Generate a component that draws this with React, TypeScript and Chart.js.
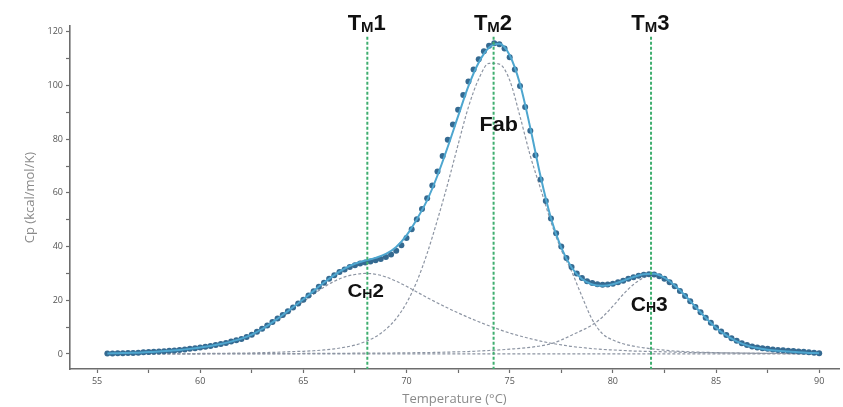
import React, { useEffect, useRef } from 'react';
import { Chart, registerables } from 'chart.js';

Chart.register(...registerables);

// ---- measured DSC data (every 0.25 °C starting at 55.5 °C) ----
const MEASURED_START = 55.5;
const MEASURED_STEP = 0.25;
const measuredCp = [
  0.2, 0.2,
  0.3, 0.3, 0.4, 0.4,
  0.5, 0.6, 0.7, 0.8,
  0.9, 1.0, 1.2, 1.3,
  1.5, 1.7, 1.9, 2.1,
  2.4, 2.7, 3.0, 3.3,
  3.7, 4.1, 4.6, 5.1,
  5.6, 6.3, 7.2, 8.3,
  9.4, 10.6, 11.9, 13.2,
  14.5, 15.9, 17.3, 18.8,
  20.2, 21.8, 23.4, 25.0,
  26.5, 28.0, 29.3, 30.5,
  31.5, 32.4, 33.1, 33.7,
  34.1, 34.5, 34.9, 35.4,
  36.1, 37.1, 38.5, 40.5,
  43.2, 46.5, 50.2, 54.0,
  58.0, 62.8, 68.0, 73.8,
  79.8, 85.5, 91.0, 96.5,
  101.5, 106.0, 109.8, 112.8,
  114.8, 115.8, 115.4, 113.8,
  110.6, 106.0, 99.8, 92.0,
  83.2, 74.0, 65.0, 57.0,
  50.5, 45.0, 40.0, 35.8,
  32.4, 30.0, 28.3, 27.1,
  26.4, 26.0, 25.8, 25.9,
  26.2, 26.7, 27.3, 28.0,
  28.6, 29.1, 29.5, 29.7,
  29.6, 29.0, 28.0, 26.7,
  25.2, 23.5, 21.6, 19.6,
  17.5, 15.5, 13.5, 11.6,
  9.9, 8.4, 7.1, 5.9,
  4.9, 4.0, 3.3, 2.8,
  2.4, 2.1, 1.9, 1.7,
  1.5, 1.4, 1.2, 1.1,
  0.9, 0.8, 0.6, 0.5,
  0.3,
];

// ---- fitted curves (every 0.5 °C starting at 55.5 °C) ----
const CURVE_START = 55.5;
const CURVE_STEP = 0.5;
const fitCp = [
  0.2,
  0.3, 0.4, 0.5, 0.7, 0.9, 1.2, 1.5, 1.9, 2.4, 3.0,
  3.7, 4.6, 5.7, 7.2, 9.3, 11.8, 14.5, 17.4, 20.4, 23.5,
  26.6, 29.4, 31.8, 33.6, 34.8, 35.8, 37.3, 39.9, 44.2, 50.2,
  57.3, 66.5, 77.2, 88.6, 99.8, 108.6, 114.2, 115.6, 111.3, 100.6,
  84.2, 66.0, 50.6, 39.6, 32.2, 27.9, 25.9, 25.4, 26.0, 27.3,
  28.7, 29.7, 29.9, 28.4, 25.5, 21.8, 17.6, 13.5, 9.8, 6.9,
  4.7, 3.2, 2.2, 1.6, 1.2, 0.9, 0.6, 0.4, 0.3,
];
const ch2Cp = [
  0.1,
  0.2, 0.3, 0.4, 0.6, 0.8, 1.1, 1.5, 1.9, 2.4, 3.0,
  3.7, 4.6, 5.6, 7.1, 9.0, 11.3, 13.9, 16.7, 19.5, 22.3,
  24.9, 27.1, 28.7, 29.6, 30.0, 29.7, 28.7, 27.1, 25.2, 23.1,
  21.0, 19.0, 17.1, 15.3, 13.6, 12.0, 10.5, 9.1, 7.8, 6.7,
  5.7, 4.8, 4.0, 3.4, 2.8, 2.4, 2.0, 1.7, 1.5, 1.3,
  1.1, 1.0, 0.9, 0.8, 0.7, 0.6, 0.5, 0.5, 0.4, 0.4,
  0.3, 0.3, 0.2, 0.2, 0.2, 0.1, 0.1, 0.1, 0.1,
];
const fabCp = [
  0.0,
  0.0, 0.0, 0.0, 0.1, 0.1, 0.1, 0.1, 0.1, 0.2, 0.2,
  0.2, 0.3, 0.3, 0.4, 0.5, 0.6, 0.7, 0.9, 1.0, 1.2,
  1.5, 1.9, 2.5, 3.3, 4.6, 6.4, 9.2, 13.2, 19.0, 27.0,
  37.5, 50.0, 63.5, 78.0, 92.0, 102.5, 108.3, 108.0, 102.0, 88.5,
  73.8, 61.5, 49.2, 38.8, 30.8, 21.5, 12.8, 7.5, 5.2, 3.8,
  2.9, 2.3, 1.8, 1.4, 1.1, 0.9, 0.7, 0.6, 0.5, 0.4,
  0.4, 0.3, 0.3, 0.2, 0.2, 0.2, 0.1, 0.1, 0.1,
];
const ch3Cp = [
  0.0,
  0.0, 0.0, 0.0, 0.0, 0.0, 0.0, 0.0, 0.0, 0.0, 0.1,
  0.1, 0.1, 0.1, 0.1, 0.1, 0.1, 0.1, 0.1, 0.2, 0.2,
  0.2, 0.2, 0.2, 0.3, 0.3, 0.3, 0.3, 0.4, 0.4, 0.5,
  0.5, 0.6, 0.7, 0.8, 0.9, 1.1, 1.3, 1.5, 1.8, 2.1,
  2.5, 3.0, 3.8, 5.2, 7.0, 8.8, 10.8, 13.8, 17.8, 22.2,
  25.9, 28.4, 29.5, 28.2, 25.3, 21.6, 17.5, 13.5, 9.8, 6.9,
  4.7, 3.1, 2.0, 1.3, 0.9, 0.6, 0.4, 0.3, 0.2,
];
const baselineT = [55.5, 90];
const baselineCp = [0, 0];

// ---- transition temperatures ----
const tmTemps = [68.1, 74.22, 81.85];
const tmNames = ['1', '2', '3'];

// ---- axis ticks ----
const xTickValues = [55, 57.5, 60, 62.5, 65, 67.5, 70, 72.5, 75, 77.5, 80, 82.5, 85, 87.5, 90];
const yTickValues = [0, 10, 20, 30, 40, 50, 60, 70, 80, 90, 100, 110, 120];

const X_MIN = 53.69;
const X_MAX = 90.96;
const Y_MIN = -5.6;
const Y_MAX = 122.2;
const TM_TOP = 118.2;

const toXY = (start: number, step: number, arr: number[]) =>
  arr.map((v, i) => ({ x: +(start + i * step).toFixed(2), y: v }));

type PeakLabel = {
  head: string;
  sub: string;
  tail: string;
  t: number;
  cp: number;
  size: number;
  subSize: number;
  subDrop: number;
  stretch: number;
};
const peakLabels: PeakLabel[] = [
  ...tmTemps.map((t, i) => ({
    head: 'T', sub: 'M', tail: tmNames[i], t, cp: 120.8, size: 22, subSize: 15, subDrop: 2.3, stretch: 1,
  })),
  { head: 'C', sub: 'H', tail: '2', t: tmTemps[0], cp: 21.1, size: 19, subSize: 13, subDrop: 1, stretch: 1.08 },
  { head: 'Fab', sub: '', tail: '', t: 74.47, cp: 82.9, size: 20, subSize: 14, subDrop: 0, stretch: 1.08 },
  { head: 'C', sub: 'H', tail: '3', t: tmTemps[2], cp: 16, size: 21, subSize: 14, subDrop: 0.7, stretch: 1 },
];

const labelPlugin = {
  id: 'peakLabels',
  afterDatasetsDraw(chart: any) {
    const { ctx } = chart;
    const xs = chart.scales.x;
    const ys = chart.scales.y;
    ctx.save();
    ctx.fillStyle = '#111111';
    ctx.textBaseline = 'alphabetic';
    ctx.textAlign = 'left';
    for (const lb of peakLabels) {
      const mainFont = `bold ${lb.size}px "Liberation Sans", Arial, sans-serif`;
      const subFont = `bold ${lb.subSize}px "Liberation Sans", Arial, sans-serif`;
      const px = xs.getPixelForValue(lb.t);
      const py = ys.getPixelForValue(lb.cp);
      ctx.font = mainFont;
      const w1 = ctx.measureText(lb.head).width;
      ctx.font = subFont;
      const w2 = lb.sub ? ctx.measureText(lb.sub).width : 0;
      const s = lb.stretch;
      let left: number;
      if (lb.sub) left = px - (w1 + w2 / 2) * s;
      else left = px - (w1 / 2) * s;
      ctx.save();
      ctx.translate(left, py);
      ctx.scale(s, 1);
      ctx.font = mainFont;
      ctx.fillText(lb.head, 0, 0);
      if (lb.sub) {
        ctx.font = subFont;
        ctx.fillText(lb.sub, w1, lb.subDrop);
        ctx.font = mainFont;
        ctx.fillText(lb.tail, w1 + w2, 0);
      }
      ctx.restore();
    }
    ctx.restore();
  },
};

export default function App() {
  const ref = useRef<HTMLCanvasElement | null>(null);

  useEffect(() => {
    if (!ref.current) return;
    Chart.defaults.font.family = '"Open Sans", "DejaVu Sans", sans-serif';

    const tmSets = tmTemps.map((t) => ({
      label: 'Tm',
      data: [
        { x: t, y: TM_TOP },
        { x: t, y: Y_MIN },
      ],
      borderColor: '#3fae6f',
      borderWidth: 2,
      borderDash: [3, 2],
      pointRadius: 0,
      fill: false,
    }));

    const compStyle = {
      borderColor: '#8d95a3',
      borderWidth: 1.2,
      borderDash: [3, 2],
      pointRadius: 0,
      fill: false,
      cubicInterpolationMode: 'monotone' as const,
    };

    const chart = new Chart(ref.current, {
      type: 'line',
      data: {
        datasets: [
          ...tmSets,
          {
            label: 'Fit',
            data: toXY(CURVE_START, CURVE_STEP, fitCp),
            borderColor: '#4ea6cf',
            borderWidth: 2,
            pointRadius: 0,
            fill: false,
            cubicInterpolationMode: 'monotone',
          },
          {
            label: 'Data',
            data: toXY(MEASURED_START, MEASURED_STEP, measuredCp),
            showLine: false,
            pointRadius: 3,
            pointBorderWidth: 0,
            pointBackgroundColor: '#356a91',
            borderColor: '#356a91',
          },
          { label: 'CH2', data: toXY(CURVE_START, CURVE_STEP, ch2Cp), ...compStyle },
          { label: 'Fab', data: toXY(CURVE_START, CURVE_STEP, fabCp), ...compStyle },
          { label: 'CH3', data: toXY(CURVE_START, CURVE_STEP, ch3Cp), ...compStyle },
          {
            label: 'Baseline',
            data: baselineT.map((t, i) => ({ x: t, y: baselineCp[i] })),
            ...compStyle,
          },
        ] as any,
      },
      options: {
        animation: false,
        responsive: false,
        maintainAspectRatio: false,
        layout: { padding: { left: 18, top: 26, right: 0, bottom: 0 } },
        plugins: {
          legend: { display: false },
          tooltip: { enabled: false },
        },
        scales: {
          x: {
            type: 'linear',
            min: X_MIN,
            max: X_MAX,
            afterBuildTicks: (scale: any) => {
              scale.ticks = xTickValues.map((v) => ({ value: v }));
            },
            afterFit: (scale: any) => {
              scale.height = 38;
            },
            ticks: {
              color: '#555555',
              font: { size: 9 },
              padding: 3,
              maxRotation: 0,
              autoSkip: false,
              callback: (v: any) => (Number(v) % 5 === 0 ? String(v) : ''),
            },
            grid: {
              drawOnChartArea: false,
              drawTicks: true,
              tickLength: 4,
              tickColor: '#6d6d6d',
              tickWidth: 1.2,
            },
            border: { display: true, color: '#6d6d6d', width: 1.6 },
            title: {
              display: true,
              text: 'Temperature (°C)',
              color: '#8a8a8a',
              font: { size: 13 },
              padding: { top: 1, bottom: 0 },
            },
          },
          y: {
            type: 'linear',
            min: Y_MIN,
            max: Y_MAX,
            afterBuildTicks: (scale: any) => {
              scale.ticks = yTickValues.map((v) => ({ value: v }));
            },
            afterFit: (scale: any) => {
              scale.width = 52;
            },
            ticks: {
              color: '#555555',
              font: { size: 9 },
              padding: 3,
              autoSkip: false,
              callback: (v: any) => (Number(v) % 20 === 0 ? String(v) : ''),
            },
            grid: {
              drawOnChartArea: false,
              drawTicks: true,
              tickLength: 4,
              tickColor: '#6d6d6d',
              tickWidth: 1.2,
            },
            border: { display: true, color: '#6d6d6d', width: 1.6 },
            title: {
              display: true,
              text: 'Cp (kcal/mol/K)',
              color: '#8a8a8a',
              font: { size: 13 },
              padding: { top: 4, bottom: 4 },
            },
          },
        },
      } as any,
      plugins: [labelPlugin],
    });

    return () => chart.destroy();
  }, []);

  return (
    <div style={{ position: 'absolute', left: 0, top: 0, width: 843, height: 407, background: '#ffffff' }}>
      <canvas ref={ref} width={843} height={407} />
    </div>
  );
}
